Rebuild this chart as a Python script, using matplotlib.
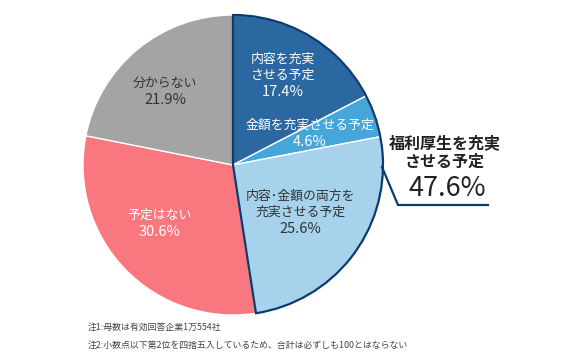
import matplotlib
matplotlib.use("Agg")
import matplotlib.pyplot as plt
from matplotlib.patches import Wedge

plt.rcParams['font.family'] = ['Noto Sans CJK JP', 'DejaVu Sans']

labels = ["内容を充実\nさせる予定", "金額を充実させる予定", "内容･金額の両方を\n充実させる予定", "予定はない", "分からない"]
values = [17.4, 4.6, 25.6, 30.6, 21.9]
colors = ["#2b67a1", "#45a6d9", "#a7d2eb", "#f9777e", "#a4a4a4"]
text_colors = ["white", "white", "#333333", "white", "#333333"]
highlight_label = "福利厚生を充実\nさせる予定"
highlight_value = 47.6
notes = ["注1:母数は有効回答企業1万554社",
         "注2:小数点以下第2位を四捨五入しているため、合計は必ずしも100とはならない"]

W, H = 580, 360
fig = plt.figure(figsize=(5.8, 3.6), dpi=100)
fig.patch.set_facecolor("white")
cx, cy, r = 233, 165, 150
ax = fig.add_axes([(cx - r) / W, (H - cy - r) / H, 2 * r / W, 2 * r / H])
ax.pie(values, colors=colors, startangle=90, counterclock=False, radius=1,
       wedgeprops=dict(edgecolor="white", linewidth=1.0))
ax.set_xlim(-1, 1)
ax.set_ylim(-1, 1)
ax.axis("off")

def d(px, py):
    return ((px - cx) / r, (cy - py) / r)

# (label center, value center) in pixels
label_pos = [((283, 67), (283, 92)), ((310, 125), (310, 142)),
             ((300, 204), (300, 229)), ((160, 215), (160, 232)),
             ((165, 83), (165, 100))]
for lab, v, (lp, vp), tc in zip(labels, values, label_pos, text_colors):
    a = d(*lp)
    b = d(*vp)
    ax.text(a[0], a[1], lab, ha="center", va="center",
            fontsize=9.3, color=tc, linespacing=1.3)
    ax.text(b[0], b[1], f"{v:.1f}%", ha="center", va="center",
            fontsize=10.5, color=tc)

# outline of highlighted group
total = sum(values)
hsum = sum(values[:3])
ang = hsum / total * 360
navy = "#0c3b6d"
ax.add_patch(Wedge((0, 0), 1, 90 - ang, 90, fill=False, edgecolor=navy,
                   linewidth=1.6, clip_on=False, zorder=5))

# callout line
p1, p2, p3 = d(382, 167), d(398, 205), d(488, 205)
ax.plot([p1[0], p2[0], p3[0]], [p1[1], p2[1], p3[1]], color=navy,
        linewidth=1.6, clip_on=False, zorder=6)

fig.text(445 / W, 1 - 152 / H, highlight_label, ha="center", va="center",
         fontsize=11.5, color="#222222", fontweight="bold", linespacing=1.2)
fig.text(447 / W, 1 - 188 / H, f"{highlight_value:.1f}%", ha="center", va="center",
         fontsize=19.5, color="#222222")

fig.text(88 / W, 1 - 327 / H, notes[0], ha="left", va="center", fontsize=6.4, color="#444444")
fig.text(88 / W, 1 - 345 / H, notes[1], ha="left", va="center", fontsize=6.4, color="#444444")

fig.savefig("out.png", dpi=100, facecolor="white")
